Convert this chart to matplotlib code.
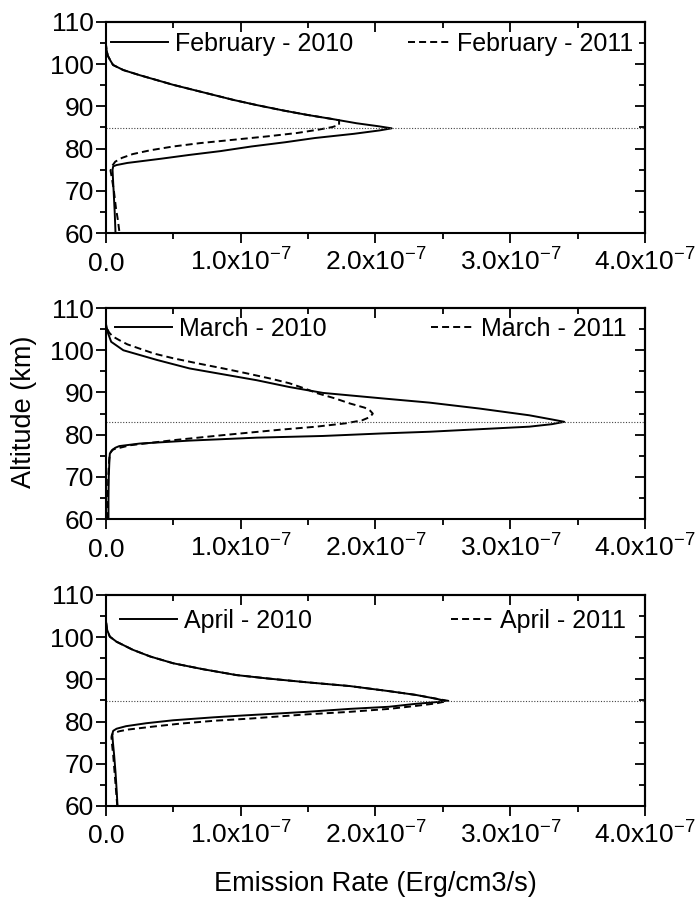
import numpy as np
import matplotlib
matplotlib.use("Agg")
import matplotlib.pyplot as plt
from matplotlib.ticker import MultipleLocator, FuncFormatter, NullFormatter


# Emission profiles, altitude in km, values in units of 1e-7 Erg/cm3/s
feb10_alt = [60, 65, 70, 73, 75.0, 75.8, 76.1, 76.6, 77.6, 78.5, 79.4, 80.5, 81.5, 82.5, 83.5,
             84.3, 84.8, 85.3, 86.0, 87.0, 88.0, 89.0, 90.3, 91.5, 93.1, 95.1, 97.4, 98.6,
             99.8, 100.8, 102.0, 103.5, 105.0]
feb10_val = [0.072, 0.066, 0.058, 0.053, 0.05, 0.055, 0.08, 0.16, 0.41, 0.62, 0.85, 1.08, 1.33,
             1.55, 1.84, 2.03, 2.12, 2.02, 1.86, 1.68, 1.49, 1.32, 1.12, 0.95, 0.75, 0.5, 0.25,
             0.13, 0.054, 0.035, 0.015, 0.005, 0.0]

feb11_alt = [60.5, 63, 66, 70, 73, 74.8, 75.8, 76.9, 77.8, 78.7, 79.6, 80.5, 81.3, 82.1, 82.9,
             83.7, 84.5, 85.1, 85.6, 86.7, 87.0, 88.0, 89.0, 90.3, 91.5, 93.1, 95.1, 97.4,
             98.6, 99.8, 100.8, 102.0, 103.5, 105.0]
feb11_val = [0.10, 0.09, 0.075, 0.06, 0.045, 0.035, 0.045, 0.07, 0.12, 0.2, 0.33, 0.5, 0.7, 0.95,
             1.2, 1.42, 1.58, 1.68, 1.73, 1.73, 1.68, 1.49, 1.32, 1.12, 0.95, 0.75, 0.5, 0.25,
             0.13, 0.054, 0.035, 0.015, 0.005, 0.0]

mar10_alt = [60, 65, 70, 74, 75.5, 76.3, 76.9, 77.3, 77.9, 78.6, 79.3, 79.7, 80.3, 80.7, 81.3,
             81.9, 82.5, 83.05, 83.6, 84.6, 86.2, 87.6, 88.6, 89.9, 91.3, 92.9, 94.3, 95.7,
             97.7, 100.0, 102.0, 104.0, 106.4]
mar10_val = [0.02, 0.02, 0.022, 0.027, 0.03, 0.045, 0.07, 0.1, 0.25, 0.62, 1.12, 1.61, 2.05, 2.4,
             2.77, 3.14, 3.31, 3.40, 3.31, 3.14, 2.77, 2.4, 2.05, 1.61, 1.36, 1.12, 0.87, 0.62,
             0.38, 0.13, 0.04, 0.017, 0.0]

mar11_alt = [60, 65, 70, 74, 75.6, 76.5, 77.5, 78.7, 79.9, 80.6, 81.2, 81.9, 82.7, 83.4, 84.2,
             85.0, 85.7, 86.4, 87.4, 88.6, 89.8, 91.0, 92.2, 93.3, 94.5, 95.7, 96.9, 98.1,
             99.2, 100.4, 101.4, 102.4, 103.3, 104.2, 105.2, 106.0]
mar11_val = [0.015, 0.015, 0.018, 0.025, 0.03, 0.054, 0.18, 0.5, 0.87, 1.1, 1.3, 1.56, 1.78, 1.9,
             1.96, 1.98, 1.96, 1.92, 1.81, 1.70, 1.57, 1.47, 1.36, 1.22, 1.05, 0.87, 0.68, 0.5,
             0.36, 0.25, 0.16, 0.1, 0.05, 0.025, 0.008, 0.0]

apr10_alt = [60, 64, 68, 72, 75, 77.0, 77.8, 78.3, 78.9, 79.6, 80.3, 81.0, 81.4, 82.3, 83.0,
             83.5, 84.2, 84.6, 84.9, 85.4, 86.3, 87.2, 88.4, 89.3, 90.2, 91.0, 92.4, 93.8,
             95.4, 97.0, 98.9, 100.1, 101.7, 104.1]
apr10_val = [0.087, 0.08, 0.072, 0.062, 0.053, 0.048, 0.055, 0.08, 0.15, 0.3, 0.5, 0.8, 1.0, 1.49,
             1.81, 2.1, 2.3, 2.45, 2.52, 2.45, 2.3, 2.1, 1.81, 1.49, 1.2, 0.97, 0.72, 0.5, 0.33,
             0.2, 0.08, 0.03, 0.01, 0.0]

apr11_alt = [60, 64, 68, 72, 75, 76.3, 76.8, 77.2, 77.7, 78.1, 78.8, 79.5, 80.2, 80.7, 81.7,
             82.3, 83.0, 83.7, 84.3, 84.9, 85.4, 86.3, 87.2, 88.4, 89.3, 90.2, 91.0, 92.4,
             93.8, 95.4, 97.0, 98.9, 100.1, 101.7, 104.1]
apr11_val = [0.085, 0.075, 0.065, 0.055, 0.045, 0.042, 0.045, 0.054, 0.1, 0.165, 0.35, 0.55, 0.81,
             1.07, 1.49, 1.81, 2.1, 2.3, 2.45, 2.54, 2.45, 2.3, 2.1, 1.81, 1.49, 1.2, 0.97, 0.72,
             0.5, 0.33, 0.2, 0.08, 0.03, 0.01, 0.0]

# Horizontal reference line (peak altitude) per panel
peak_alt = [84.8, 83.05, 84.9]

labels_2010 = ["February - 2010", "March - 2010", "April - 2010"]
labels_2011 = ["February - 2011", "March - 2011", "April - 2011"]

SCALE = 1e-7
DASH = (0, (3.6, 2.1))

plt.rcParams["font.family"] = ["Liberation Sans", "DejaVu Sans"]
plt.rcParams["mathtext.default"] = "regular"


def x_label_fmt(v, pos):
    if abs(v) < 1e-12:
        return "0.0"
    return "%.1fx10$^{-7}$" % (v / SCALE)


def style_axes(ax):
    ax.set_xlim(0, 4e-7)
    ax.set_ylim(60, 110)
    ax.xaxis.set_major_locator(MultipleLocator(1e-7))
    ax.xaxis.set_minor_locator(MultipleLocator(0.5e-7))
    ax.yaxis.set_major_locator(MultipleLocator(10))
    ax.yaxis.set_minor_locator(MultipleLocator(5))
    ax.xaxis.set_major_formatter(FuncFormatter(x_label_fmt))
    ax.tick_params(which="major", direction="out", length=7, width=1.3, labelsize=19)
    ax.tick_params(which="minor", direction="out", length=4.5, width=1.3)
    ax.tick_params(axis="y", pad=1.5)
    ax.tick_params(axis="x", pad=20)
    # keep "0.0" and "1.0x10-7" on the same baseline
    for t in ax.xaxis.get_major_ticks():
        t.label1.set_verticalalignment("baseline")
    for sp in ax.spines.values():
        sp.set_linewidth(1.5)

    # top / right ticks point inwards
    top = ax.secondary_xaxis("top")
    top.xaxis.set_major_locator(MultipleLocator(1e-7))
    top.xaxis.set_minor_locator(MultipleLocator(0.5e-7))
    top.xaxis.set_major_formatter(NullFormatter())
    top.tick_params(which="major", direction="in", length=7, width=1.3)
    top.tick_params(which="minor", direction="in", length=4.5, width=1.3)
    top.spines["top"].set_linewidth(1.5)

    right = ax.secondary_yaxis("right")
    right.yaxis.set_major_locator(MultipleLocator(10))
    right.yaxis.set_minor_locator(MultipleLocator(5))
    right.yaxis.set_major_formatter(NullFormatter())
    right.tick_params(which="major", direction="in", length=7, width=1.3)
    right.tick_params(which="minor", direction="in", length=4.5, width=1.3)
    right.spines["right"].set_linewidth(1.5)


def draw_panel(ax, alt_a, val_a, alt_b, val_b, peak, lab_a, lab_b, leg_y, leg_x0, leg_x1):
    l1, = ax.plot(np.array(val_a) * SCALE, alt_a, color="black", lw=1.4)
    l2, = ax.plot(np.array(val_b) * SCALE, alt_b, color="black", lw=1.4, ls=DASH)
    ax.axhline(peak, color="#444444", lw=0.8, ls=(0, (1, 1.5)))
    style_axes(ax)

    leg1 = ax.legend([l1], [lab_a], loc="center left", bbox_to_anchor=(leg_x0, leg_y),
                     frameon=False, fontsize=18, borderpad=0, borderaxespad=0,
                     handlelength=2.3, handletextpad=0.28)
    ax.add_artist(leg1)
    ax.legend([l2], [lab_b], loc="center right", bbox_to_anchor=(leg_x1, leg_y),
              frameon=False, fontsize=18, borderpad=0, borderaxespad=0,
              handlelength=1.7, handletextpad=0.28)


fig = plt.figure(figsize=(6.96, 9.06), dpi=100)
left, width, height = 0.152, 0.775, 0.233
bottoms = [0.7428, 0.427, 0.1104]
axes = [fig.add_axes([left, b, width, height]) for b in bottoms]

draw_panel(axes[0], feb10_alt, feb10_val, feb11_alt, feb11_val, peak_alt[0],
           labels_2010[0], labels_2011[0], 0.896, 0.009, 0.978)
draw_panel(axes[1], mar10_alt, mar10_val, mar11_alt, mar11_val, peak_alt[1],
           labels_2010[1], labels_2011[1], 0.900, 0.017, 0.965)
draw_panel(axes[2], apr10_alt, apr10_val, apr11_alt, apr11_val, peak_alt[2],
           labels_2010[2], labels_2011[2], 0.877, 0.026, 0.965)

fig.text(0.034, 0.545, "Altitude (km)", rotation=90, ha="center", va="center", fontsize=19.5)
fig.text(0.54, 1 - 884 / 906, "Emission Rate (Erg/cm3/s)", ha="center", va="center", fontsize=19.5)

fig.savefig("out.png", dpi=100)
